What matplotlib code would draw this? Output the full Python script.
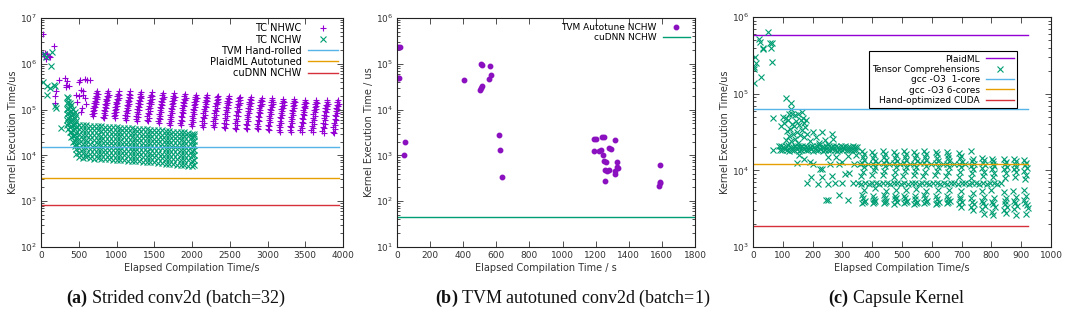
import numpy as np
import matplotlib
matplotlib.use('Agg')
import matplotlib.pyplot as plt
from matplotlib.ticker import LogLocator, MultipleLocator, NullFormatter

plt.rcParams['font.family'] = ['DejaVu Sans']
plt.rcParams['mathtext.fontset'] = 'custom'
plt.rcParams['mathtext.rm'] = 'Liberation Serif'
plt.rcParams['mathtext.bf'] = 'Liberation Serif:bold'

# gnuplot default palette
purple = '#9400d3'
green = '#009e73'
skyblue = '#56b4e9'
orange = '#e69f00'
red = '#d6303a'

#
# (a) strided conv2d, batch=32
#
nhwc_early_x = [22, 168, 30, 45, 55, 75, 100, 120, 62, 181, 190, 200, 239, 314, 330, 336, 350, 372,
                509, 521, 579, 610, 645, 460, 475, 500, 530, 553, 560, 580, 600, 540, 530]
nhwc_early_y = [4.4e6, 2.4e6, 1.6e6, 1.5e6, 1.7e6, 1.6e6, 1.5e6, 1.4e6, 1.3e6, 1.4e5, 2.0e5, 2.6e5, 4.4e5, 4.8e5,
                3.1e5, 3.5e5, 4.2e5, 3.3e5, 4.1e5, 4.4e5, 4.6e5, 4.5e5, 4.4e5, 2.1e5, 1.5e5, 2.0e5, 2.7e5, 2.1e5,
                2.5e5, 1.8e5, 1.3e5, 1.1e5, 9e4]
# the slanted stripes of TC NHWC, one list per stripe (left edge of each stripe)
nhwc_stripes_x = [
    [678, 686, 692, 699, 705, 712, 719, 726, 733, 742],
    [822, 830, 836, 843, 850, 857, 864, 871, 879, 888],
    [963, 970, 977, 983, 990, 997, 1004, 1011, 1019, 1027],
    [1112, 1119, 1126, 1133, 1139, 1146, 1153, 1160, 1168, 1176],
    [1257, 1264, 1271, 1277, 1284, 1291, 1298, 1305, 1313, 1321],
    [1402, 1409, 1416, 1423, 1429, 1436, 1443, 1450, 1458, 1466],
    [1552, 1559, 1566, 1572, 1579, 1586, 1593, 1600, 1608, 1616],
    [1697, 1704, 1711, 1718, 1724, 1731, 1738, 1745, 1753, 1761],
    [1842, 1849, 1856, 1862, 1869, 1876, 1883, 1890, 1898, 1906],
    [1987, 1994, 2001, 2008, 2014, 2021, 2028, 2035, 2043, 2051],
    [2132, 2139, 2146, 2152, 2159, 2166, 2173, 2180, 2188, 2196],
    [2277, 2284, 2291, 2298, 2304, 2311, 2318, 2325, 2333, 2341],
    [2422, 2429, 2436, 2442, 2449, 2456, 2463, 2470, 2478, 2486],
    [2567, 2574, 2581, 2588, 2594, 2601, 2608, 2615, 2623, 2631],
    [2712, 2719, 2726, 2732, 2739, 2746, 2753, 2760, 2768, 2776],
    [2857, 2864, 2871, 2878, 2884, 2891, 2898, 2905, 2913, 2921],
    [3002, 3009, 3016, 3022, 3029, 3036, 3043, 3050, 3058, 3066],
    [3147, 3154, 3161, 3168, 3174, 3181, 3188, 3195, 3203, 3211],
    [3292, 3299, 3306, 3312, 3319, 3326, 3333, 3340, 3348, 3356],
    [3437, 3444, 3451, 3458, 3464, 3471, 3478, 3485, 3493, 3501],
    [3582, 3589, 3596, 3602, 3609, 3616, 3623, 3630, 3638, 3646],
    [3727, 3734, 3741, 3748, 3754, 3761, 3768, 3775, 3783, 3791],
    [3867, 3874, 3881, 3888, 3894, 3901, 3908, 3915, 3923, 3940],
]
nhwc_stripes_y = [
    [8.0e4, 9.2e4, 1.08e5, 1.22e5, 1.4e5, 1.58e5, 1.8e5, 2.02e5, 2.3e5, 2.6e5],
    [7.0e4, 8.4e4, 1.0e5, 1.15e5, 1.33e5, 1.52e5, 1.74e5, 1.98e5, 2.25e5, 2.6e5],
    [7.2e4, 8.6e4, 9.8e4, 1.14e5, 1.3e5, 1.48e5, 1.7e5, 1.95e5, 2.2e5, 2.5e5],
    [6.5e4, 7.8e4, 9.2e4, 1.08e5, 1.25e5, 1.44e5, 1.66e5, 1.9e5, 2.2e5, 2.5e5],
    [6.2e4, 7.4e4, 8.9e4, 1.05e5, 1.22e5, 1.42e5, 1.64e5, 1.88e5, 2.15e5, 2.4e5],
    [6.0e4, 7.2e4, 8.6e4, 1.02e5, 1.2e5, 1.4e5, 1.6e5, 1.85e5, 2.1e5, 2.4e5],
    [5.5e4, 6.6e4, 8.0e4, 9.6e4, 1.14e5, 1.34e5, 1.56e5, 1.8e5, 2.05e5, 2.3e5],
    [5.0e4, 6.2e4, 7.6e4, 9.2e4, 1.1e5, 1.3e5, 1.52e5, 1.76e5, 2.02e5, 2.3e5],
    [5.0e4, 6.0e4, 7.4e4, 9.0e4, 1.08e5, 1.28e5, 1.5e5, 1.72e5, 1.98e5, 2.2e5],
    [4.8e4, 5.8e4, 7.1e4, 8.7e4, 1.05e5, 1.24e5, 1.46e5, 1.68e5, 1.92e5, 2.1e5],
    [4.5e4, 5.6e4, 6.9e4, 8.5e4, 1.02e5, 1.22e5, 1.44e5, 1.66e5, 1.9e5, 2.1e5],
    [4.5e4, 5.5e4, 6.8e4, 8.3e4, 1.0e5, 1.19e5, 1.4e5, 1.62e5, 1.85e5, 2.0e5],
    [4.2e4, 5.2e4, 6.5e4, 8.0e4, 9.7e4, 1.16e5, 1.37e5, 1.58e5, 1.8e5, 2.0e5],
    [4.0e4, 5.0e4, 6.2e4, 7.7e4, 9.4e4, 1.13e5, 1.33e5, 1.54e5, 1.75e5, 1.9e5],
    [4.0e4, 4.9e4, 6.1e4, 7.6e4, 9.2e4, 1.1e5, 1.3e5, 1.5e5, 1.72e5, 1.9e5],
    [4.0e4, 4.8e4, 6.0e4, 7.4e4, 9.0e4, 1.08e5, 1.27e5, 1.46e5, 1.66e5, 1.8e5],
    [3.8e4, 4.7e4, 5.8e4, 7.2e4, 8.8e4, 1.05e5, 1.24e5, 1.43e5, 1.62e5, 1.8e5],
    [3.6e4, 4.5e4, 5.6e4, 7.0e4, 8.5e4, 1.02e5, 1.2e5, 1.38e5, 1.56e5, 1.7e5],
    [3.6e4, 4.4e4, 5.5e4, 6.8e4, 8.3e4, 1.0e5, 1.18e5, 1.36e5, 1.54e5, 1.7e5],
    [3.5e4, 4.3e4, 5.4e4, 6.6e4, 8.1e4, 9.7e4, 1.14e5, 1.32e5, 1.48e5, 1.6e5],
    [3.5e4, 4.3e4, 5.3e4, 6.5e4, 8.0e4, 9.6e4, 1.13e5, 1.3e5, 1.46e5, 1.6e5],
    [3.4e4, 4.2e4, 5.2e4, 6.4e4, 7.8e4, 9.4e4, 1.11e5, 1.28e5, 1.44e5, 1.6e5],
    [3.3e4, 4.1e4, 5.1e4, 6.3e4, 7.7e4, 9.3e4, 1.1e5, 1.27e5, 1.43e5, 1.6e5],
]
# right edge of each stripe
nhwc_stripes2_x = [
    [694, 701, 708, 715, 722, 729, 736, 744, 752],
    [838, 845, 852, 859, 866, 873, 880, 888, 896],
    [979, 986, 993, 999, 1006, 1013, 1020, 1028, 1036],
    [1128, 1135, 1142, 1149, 1155, 1162, 1169, 1177, 1185],
    [1273, 1280, 1287, 1293, 1300, 1307, 1314, 1322, 1330],
    [1418, 1425, 1432, 1439, 1445, 1452, 1459, 1467, 1475],
    [1568, 1575, 1582, 1588, 1595, 1602, 1609, 1617, 1625],
    [1713, 1720, 1727, 1734, 1740, 1747, 1754, 1762, 1770],
    [1858, 1865, 1872, 1878, 1885, 1892, 1899, 1907, 1915],
    [2003, 2010, 2017, 2024, 2030, 2037, 2044, 2052, 2060],
    [2148, 2155, 2162, 2168, 2175, 2182, 2189, 2197, 2205],
    [2293, 2300, 2307, 2314, 2320, 2327, 2334, 2342, 2350],
    [2438, 2445, 2452, 2458, 2465, 2472, 2479, 2487, 2495],
    [2583, 2590, 2597, 2604, 2610, 2617, 2624, 2632, 2640],
    [2728, 2735, 2742, 2748, 2755, 2762, 2769, 2777, 2785],
    [2873, 2880, 2887, 2894, 2900, 2907, 2914, 2922, 2930],
    [3018, 3025, 3032, 3038, 3045, 3052, 3059, 3067, 3075],
    [3163, 3170, 3177, 3184, 3190, 3197, 3204, 3212, 3220],
    [3308, 3315, 3322, 3328, 3335, 3342, 3349, 3357, 3365],
    [3453, 3460, 3467, 3474, 3480, 3487, 3494, 3502, 3510],
    [3598, 3605, 3612, 3618, 3625, 3632, 3639, 3647, 3655],
    [3743, 3750, 3757, 3764, 3770, 3777, 3784, 3792, 3800],
    [3883, 3890, 3897, 3904, 3910, 3917, 3924, 3932, 3945],
]
nhwc_stripes2_y = [
    [7.4e4, 8.6e4, 1.0e5, 1.15e5, 1.3e5, 1.5e5, 1.7e5, 1.92e5, 2.15e5],
    [6.6e4, 7.8e4, 9.2e4, 1.07e5, 1.24e5, 1.42e5, 1.64e5, 1.86e5, 2.1e5],
    [6.6e4, 7.8e4, 9.0e4, 1.05e5, 1.22e5, 1.4e5, 1.6e5, 1.83e5, 2.05e5],
    [6.0e4, 7.2e4, 8.5e4, 1.0e5, 1.17e5, 1.35e5, 1.56e5, 1.78e5, 2.05e5],
    [5.7e4, 6.8e4, 8.2e4, 9.7e4, 1.13e5, 1.32e5, 1.53e5, 1.76e5, 2.0e5],
    [5.5e4, 6.6e4, 8.0e4, 9.4e4, 1.11e5, 1.3e5, 1.5e5, 1.72e5, 1.95e5],
    [5.1e4, 6.1e4, 7.4e4, 8.9e4, 1.06e5, 1.25e5, 1.45e5, 1.68e5, 1.9e5],
    [4.6e4, 5.7e4, 7.0e4, 8.5e4, 1.02e5, 1.21e5, 1.42e5, 1.64e5, 1.88e5],
    [4.6e4, 5.5e4, 6.8e4, 8.3e4, 1.0e5, 1.19e5, 1.39e5, 1.6e5, 1.83e5],
    [4.4e4, 5.3e4, 6.5e4, 8.0e4, 9.7e4, 1.15e5, 1.35e5, 1.56e5, 1.78e5],
    [4.2e4, 5.2e4, 6.4e4, 7.8e4, 9.4e4, 1.13e5, 1.33e5, 1.54e5, 1.76e5],
    [4.1e4, 5.1e4, 6.3e4, 7.7e4, 9.2e4, 1.1e5, 1.3e5, 1.5e5, 1.72e5],
    [3.9e4, 4.8e4, 6.0e4, 7.4e4, 9.0e4, 1.07e5, 1.27e5, 1.46e5, 1.67e5],
    [3.7e4, 4.6e4, 5.7e4, 7.1e4, 8.7e4, 1.04e5, 1.23e5, 1.42e5, 1.62e5],
    [3.7e4, 4.5e4, 5.6e4, 7.0e4, 8.5e4, 1.02e5, 1.2e5, 1.39e5, 1.59e5],
    [3.7e4, 4.4e4, 5.5e4, 6.8e4, 8.3e4, 1.0e5, 1.17e5, 1.35e5, 1.54e5],
    [3.5e4, 4.3e4, 5.4e4, 6.6e4, 8.1e4, 9.7e4, 1.14e5, 1.32e5, 1.5e5],
    [3.3e4, 4.1e4, 5.2e4, 6.4e4, 7.8e4, 9.4e4, 1.1e5, 1.28e5, 1.45e5],
    [3.3e4, 4.1e4, 5.1e4, 6.3e4, 7.7e4, 9.2e4, 1.09e5, 1.26e5, 1.43e5],
    [3.2e4, 4.0e4, 5.0e4, 6.1e4, 7.5e4, 9.0e4, 1.06e5, 1.22e5, 1.38e5],
    [3.2e4, 4.0e4, 4.9e4, 6.0e4, 7.4e4, 8.9e4, 1.05e5, 1.2e5, 1.36e5],
    [3.1e4, 3.9e4, 4.8e4, 5.9e4, 7.2e4, 8.7e4, 1.03e5, 1.19e5, 1.34e5],
    [3.1e4, 3.8e4, 4.7e4, 5.8e4, 7.1e4, 8.6e4, 1.02e5, 1.18e5, 1.33e5],
]

nchw_early_x = [26, 80, 181, 84, 137, 40, 70, 200, 268, 170, 190, 120, 150]
nchw_early_y = [4.0e5, 3.2e5, 3.3e5, 2.1e5, 9.0e5, 1.6e6, 1.4e6, 1.1e5, 3.9e4, 3.5e5, 1.2e5, 3.0e5, 1.8e6]
# TC NCHW block, one list per column
nchw_cols_x = [340, 360, 380, 400, 420, 445, 470, 500, 550, 600, 650, 700, 750, 800, 850, 900, 950,
               1000, 1050, 1100, 1150, 1200, 1250, 1300, 1350, 1400, 1450, 1500, 1550, 1600, 1650,
               1700, 1750, 1800, 1850, 1900, 1950, 2000, 2025]
nchw_cols_y = [
    [4.5e4, 6e4, 8e4, 1.05e5, 1.4e5, 1.9e5],
    [3.8e4, 5e4, 6.5e4, 8.5e4, 1.1e5, 1.5e5, 1.8e5],
    [3.2e4, 4.2e4, 5.5e4, 7e4, 9e4, 1.15e5, 1.4e5],
    [2.5e4, 3.3e4, 4.4e4, 5.8e4, 7.5e4, 9.5e4, 1.25e5],
    [2.0e4, 2.6e4, 3.5e4, 4.6e4, 6e4, 8e4, 1.05e5],
    [1.6e4, 2.1e4, 2.8e4, 3.7e4, 4.9e4, 6.5e4, 9e4],
    [1.1e4, 1.4e4, 1.8e4, 2.4e4, 3.1e4, 4.2e4, 5.5e4, 7.5e4],
    [9.2e3, 1.15e4, 1.45e4, 1.85e4, 2.3e4, 2.9e4, 3.7e4, 4.6e4],
    [8.8e3, 1.12e4, 1.4e4, 1.8e4, 2.25e4, 2.85e4, 3.6e4, 4.5e4],
    [9.0e3, 1.1e4, 1.42e4, 1.78e4, 2.2e4, 2.8e4, 3.55e4, 4.5e4],
    [8.6e3, 1.1e4, 1.38e4, 1.75e4, 2.25e4, 2.8e4, 3.6e4, 4.4e4],
    [8.5e3, 1.08e4, 1.36e4, 1.72e4, 2.2e4, 2.75e4, 3.5e4, 4.4e4],
    [8.7e3, 1.1e4, 1.4e4, 1.75e4, 2.2e4, 2.8e4, 3.5e4, 4.3e4],
    [8.3e3, 1.05e4, 1.35e4, 1.7e4, 2.15e4, 2.7e4, 3.45e4, 4.3e4],
    [8.4e3, 1.06e4, 1.33e4, 1.7e4, 2.1e4, 2.7e4, 3.4e4, 4.2e4],
    [8.2e3, 1.04e4, 1.32e4, 1.68e4, 2.1e4, 2.65e4, 3.35e4, 4.2e4],
    [8.0e3, 1.02e4, 1.3e4, 1.65e4, 2.1e4, 2.65e4, 3.3e4, 4.1e4],
    [8.1e3, 1.03e4, 1.3e4, 1.63e4, 2.05e4, 2.6e4, 3.3e4, 4.1e4],
    [7.8e3, 1.0e4, 1.28e4, 1.6e4, 2.05e4, 2.6e4, 3.25e4, 4.0e4],
    [7.9e3, 1.0e4, 1.27e4, 1.6e4, 2.0e4, 2.55e4, 3.2e4, 4.0e4],
    [7.6e3, 9.8e3, 1.25e4, 1.58e4, 2.0e4, 2.5e4, 3.2e4, 3.9e4],
    [7.7e3, 9.8e3, 1.24e4, 1.56e4, 1.98e4, 2.5e4, 3.15e4, 3.9e4],
    [7.5e3, 9.6e3, 1.22e4, 1.55e4, 1.95e4, 2.45e4, 3.1e4, 3.8e4],
    [7.4e3, 9.5e3, 1.2e4, 1.53e4, 1.93e4, 2.45e4, 3.05e4, 3.8e4],
    [7.3e3, 9.4e3, 1.2e4, 1.5e4, 1.9e4, 2.4e4, 3.0e4, 3.7e4],
    [7.2e3, 9.2e3, 1.18e4, 1.5e4, 1.88e4, 2.38e4, 3.0e4, 3.7e4],
    [7.0e3, 9.0e3, 1.15e4, 1.47e4, 1.86e4, 2.35e4, 2.95e4, 3.6e4],
    [7.0e3, 9.0e3, 1.14e4, 1.45e4, 1.85e4, 2.3e4, 2.9e4, 3.6e4],
    [6.8e3, 8.8e3, 1.12e4, 1.43e4, 1.82e4, 2.3e4, 2.9e4, 3.5e4],
    [6.7e3, 8.6e3, 1.1e4, 1.42e4, 1.8e4, 2.25e4, 2.85e4, 3.5e4],
    [6.6e3, 8.5e3, 1.1e4, 1.4e4, 1.78e4, 2.22e4, 2.8e4, 3.4e4],
    [6.5e3, 8.4e3, 1.08e4, 1.38e4, 1.75e4, 2.2e4, 2.75e4, 3.4e4],
    [6.4e3, 8.3e3, 1.06e4, 1.36e4, 1.72e4, 2.18e4, 2.7e4, 3.3e4],
    [6.3e3, 8.2e3, 1.05e4, 1.35e4, 1.7e4, 2.15e4, 2.7e4, 3.3e4],
    [6.2e3, 8.0e3, 1.04e4, 1.33e4, 1.68e4, 2.12e4, 2.65e4, 3.2e4],
    [6.1e3, 7.9e3, 1.02e4, 1.3e4, 1.66e4, 2.1e4, 2.6e4, 3.2e4],
    [6.0e3, 7.8e3, 1.0e4, 1.28e4, 1.64e4, 2.08e4, 2.6e4, 3.1e4],
    [6.0e3, 7.7e3, 1.0e4, 1.27e4, 1.62e4, 2.05e4, 2.55e4, 3.0e4],
    [6.2e3, 8.0e3, 1.03e4, 1.3e4, 1.65e4, 2.1e4, 2.6e4, 2.9e4],
]
tvm_hand_rolled = 1.55e4
plaidml_autotuned = 3.2e3
cudnn_a = 830

#
# (b) TVM autotuned conv2d, batch=1
#
tvm_x = [6, 18, 8, 13, 46, 44, 406, 509, 515, 561, 565, 553, 513, 505, 501, 614, 622, 632,
         1187, 1203, 1238, 1251, 1316, 1191, 1223, 1235, 1245, 1278, 1294, 1249, 1262, 1254, 1266,
         1282, 1257, 1328, 1328, 1334, 1318, 1318, 1591, 1586, 1588, 1580]
tvm_y = [2.3e5, 2.3e5, 4.8e4, 4.8e4, 1.96e3, 1.0e3, 4.4e4, 9.9e4, 9.6e4, 8.8e4, 5.7e4, 4.66e4, 3.33e4,
         3.0e4, 2.68e4, 2.79e3, 1.31e3, 337, 2.24e3, 2.28e3, 2.56e3, 2.56e3, 2.13e3, 1.25e3, 1.27e3,
         1.33e3, 1.02e3, 1.43e3, 1.4e3, 755, 710, 472, 460, 472, 276, 718, 567, 540, 457, 386,
         617, 267, 250, 218]
cudnn_b = 46

#
# (c) Capsule kernel
#
tc_early_x = [51, 21, 25, 35, 32, 57, 63, 60, 63, 6, 10, 3, 4, 26, 2, 66, 66]
tc_early_y = [6.4e5, 5.2e5, 4.7e5, 3.9e5, 3.8e5, 4.6e5, 4.6e5, 4.0e5, 2.57e5, 3.0e5, 2.5e5, 2.25e5,
              1.36e5, 1.64e5, 2.1e5, 4.8e4, 1.85e4]
tc_cloud_x = [111, 126, 127, 122, 132, 100, 110, 118, 140, 150, 163, 168, 172, 160, 145, 105, 130, 138,
              155, 175, 125, 115, 148, 165, 135, 120, 158, 140, 170, 128, 150, 110, 178, 180, 95,
              202, 230, 213, 241, 222, 190, 250, 270, 265]
tc_cloud_y = [8.7e4, 7.5e4, 6.4e4, 5.5e4, 5.5e4, 5.0e4, 4.8e4, 4.6e4, 5.2e4, 5.5e4, 5.8e4, 4.8e4, 4.2e4,
              4.5e4, 4.4e4, 4.2e4, 4.0e4, 3.8e4, 3.9e4, 3.7e4, 3.5e4, 3.3e4, 3.2e4, 3.4e4, 3.0e4, 2.8e4,
              2.9e4, 2.6e4, 2.7e4, 2.4e4, 2.3e4, 2.5e4, 4.5e4, 3.0e4, 3.8e4,
              3.2e4, 3.2e4, 2.7e4, 2.5e4, 2.3e4, 2.4e4, 2.2e4, 2.6e4, 3.0e4]
tc_band_x = [86, 94, 102, 110, 118, 126, 134, 142, 150, 158, 166, 174, 182, 190, 198, 206, 214, 222,
             230, 238, 246, 254, 262, 270, 278, 286, 294, 302, 310, 318, 326, 334, 342, 350,
             90, 98, 106, 114, 122, 130, 138, 146, 154, 162, 170, 178, 186, 194, 202, 210, 218,
             226, 234, 242, 250, 258, 266, 274, 282, 290, 298, 306, 314, 322, 330, 338, 346]
tc_band_y = [2.05e4, 2.1e4, 2.0e4, 2.06e4, 2.12e4, 2.03e4, 1.99e4, 2.07e4, 2.1e4, 2.02e4, 2.05e4, 2.1e4,
             2.0e4, 2.04e4, 2.09e4, 2.0e4, 2.06e4, 2.11e4, 2.03e4, 2.0e4, 2.07e4, 2.1e4, 2.02e4, 2.05e4,
             2.09e4, 2.01e4, 2.06e4, 2.03e4, 2.1e4, 1.99e4, 2.04e4, 2.07e4, 2.02e4, 2.03e4,
             1.85e4, 1.82e4, 1.88e4, 1.84e4, 1.8e4, 1.86e4, 1.83e4, 1.87e4, 1.81e4, 1.85e4, 1.88e4,
             1.82e4, 1.84e4, 1.87e4, 1.8e4, 1.85e4, 1.83e4, 1.88e4, 1.81e4, 1.86e4, 1.84e4, 1.82e4,
             1.87e4, 1.85e4, 1.8e4, 1.86e4, 1.83e4, 1.88e4, 1.84e4, 1.82e4, 1.86e4, 1.85e4, 1.83e4]
tc_low_x = [146, 191, 224, 196, 230, 230, 180, 219, 253, 253, 245, 290, 320, 260, 280, 300, 310, 322,
            335, 300, 340, 275, 290, 265, 200, 170, 155, 250, 320, 345]
tc_low_y = [1.25e4, 1.3e4, 1.03e4, 8.3e3, 8.3e3, 1.03e4, 6.8e3, 6.7e3, 6.7e3, 4.1e3, 4.1e3, 4.8e3, 4.1e3,
            1.2e4, 1.5e4, 1.3e4, 9e3, 9.2e3, 6.8e3, 6.8e3, 1.2e4, 6.8e3, 1.2e4, 8.5e3, 1.2e4, 1.4e4,
            1.6e4, 1.5e4, 1.55e4, 1.6e4]
# columns of configurations after ~350 s
tc_cols_x = [
    [365, 371, 368, 374, 366, 372, 369, 364, 373, 367, 370, 375, 366, 371],
    [401, 407, 404, 410, 402, 408, 405, 400, 409, 403, 406, 411, 402, 407],
    [437, 443, 440, 446, 438, 444, 441, 436, 445, 439, 442, 447, 438, 443],
    [473, 479, 476, 482, 474, 480, 477, 472, 481, 475, 478, 483, 474, 479],
    [506, 512, 509, 515, 507, 513, 510, 505, 514, 508, 511, 516, 507, 512],
    [540, 546, 543, 549, 541, 547, 544, 539, 548, 542, 545, 550, 541, 546],
    [573, 579, 576, 582, 574, 580, 577, 572, 581, 575, 578, 583, 574, 579],
    [613, 619, 616, 622, 614, 620, 617, 612, 621, 615, 618, 623, 614, 619],
    [650, 656, 653, 659, 651, 657, 654, 649, 658, 652, 655, 660, 651, 656],
    [691, 697, 694, 700, 692, 698, 695, 690, 699, 693, 696, 701, 692, 697],
    [731, 737, 734, 740, 732, 738, 735, 730, 739, 733, 736, 741, 732, 737],
    [768, 774, 771, 777, 769, 775, 772, 767, 776, 770, 773, 778, 769, 774],
    [801, 807, 804, 810, 802, 808, 805, 800, 809, 803, 806, 811, 802, 807],
    [842, 848, 845, 851, 843, 849, 846, 841, 850, 844, 847, 852, 843, 848],
    [875, 881, 878, 884, 876, 882, 879, 874, 883, 877, 880, 885, 876, 881],
    [909, 915, 912, 918, 910, 916, 913, 908, 917, 911, 914, 920, 922, 916],
]
tc_cols_y = [
    [1.78e4, 1.62e4, 1.48e4, 1.35e4, 1.24e4, 1.12e4, 9.6e3, 8.4e3, 5.5e3, 4.7e3, 4.3e3, 4.0e3, 3.75e3, 3.9e3],
    [1.72e4, 1.6e4, 1.46e4, 1.33e4, 1.22e4, 1.1e4, 1.0e4, 8.8e3, 5.8e3, 4.6e3, 4.25e3, 3.95e3, 3.7e3, 3.85e3],
    [1.8e4, 1.64e4, 1.5e4, 1.36e4, 1.25e4, 1.13e4, 9.8e3, 8.6e3, 5.4e3, 4.7e3, 4.3e3, 4.0e3, 3.7e3, 3.9e3],
    [1.75e4, 1.6e4, 1.47e4, 1.34e4, 1.23e4, 1.11e4, 9.4e3, 8.2e3, 5.6e3, 4.6e3, 4.2e3, 3.9e3, 3.65e3, 4.4e3],
    [1.78e4, 1.63e4, 1.49e4, 1.35e4, 1.24e4, 1.12e4, 9.7e3, 8.5e3, 5.5e3, 4.65e3, 4.3e3, 3.95e3, 3.7e3, 3.85e3],
    [1.74e4, 1.6e4, 1.46e4, 1.33e4, 1.22e4, 1.1e4, 9.9e3, 8.7e3, 5.7e3, 4.6e3, 4.25e3, 3.9e3, 3.65e3, 3.8e3],
    [1.8e4, 1.65e4, 1.5e4, 1.36e4, 1.25e4, 1.13e4, 9.5e3, 8.4e3, 5.4e3, 4.7e3, 4.3e3, 4.0e3, 3.7e3, 3.9e3],
    [1.76e4, 1.61e4, 1.47e4, 1.34e4, 1.23e4, 1.11e4, 9.8e3, 8.6e3, 5.6e3, 4.6e3, 4.2e3, 3.9e3, 3.65e3, 3.8e3],
    [1.73e4, 1.6e4, 1.46e4, 1.33e4, 1.22e4, 1.1e4, 9.6e3, 8.5e3, 5.5e3, 4.65e3, 4.25e3, 3.95e3, 3.7e3, 3.85e3],
    [1.7e4, 1.55e4, 1.43e4, 1.3e4, 1.2e4, 1.09e4, 9.4e3, 8.3e3, 5.3e3, 4.5e3, 4.2e3, 3.9e3, 3.6e3, 3.3e3],
    [1.8e4, 1.42e4, 1.32e4, 1.22e4, 1.13e4, 1.05e4, 9.2e3, 8.0e3, 5.1e3, 4.4e3, 3.9e3, 3.6e3, 3.3e3, 3.0e3],
    [1.45e4, 1.35e4, 1.25e4, 1.16e4, 1.08e4, 9.6e3, 8.4e3, 5.3e3, 4.5e3, 4.0e3, 3.7e3, 3.4e3, 3.1e3, 2.7e3],
    [1.42e4, 1.32e4, 1.22e4, 1.13e4, 1.05e4, 9.3e3, 8.1e3, 5.5e3, 4.4e3, 3.9e3, 3.6e3, 3.3e3, 2.9e3, 2.6e3],
    [1.4e4, 1.3e4, 1.2e4, 1.12e4, 1.04e4, 9.2e3, 8.0e3, 5.2e3, 4.4e3, 3.95e3, 3.6e3, 3.3e3, 3.0e3, 2.8e3],
    [1.42e4, 1.31e4, 1.21e4, 1.12e4, 1.04e4, 9.4e3, 8.2e3, 5.4e3, 4.5e3, 4.0e3, 3.7e3, 3.4e3, 3.1e3, 2.6e3],
    [1.35e4, 1.25e4, 1.16e4, 1.08e4, 9.8e3, 8.8e3, 7.6e3, 5.6e3, 4.6e3, 4.1e3, 3.8e3, 3.5e3, 3.2e3, 2.7e3],
]
tc_row_x = [352, 364, 376, 388, 400, 412, 424, 436, 448, 460, 472, 484, 496, 508, 520, 532, 544, 556,
            568, 580, 592, 604, 616, 628, 640, 652, 664, 676, 688, 700, 712, 724, 736, 748, 760, 772,
            784, 796, 808, 820, 832,
            358, 386, 420, 458, 494, 527, 560, 597, 636, 674, 712]
tc_row_y = [6.9e3, 6.7e3, 6.8e3, 6.6e3, 6.9e3, 6.8e3, 6.7e3, 6.9e3, 6.8e3, 6.6e3, 6.8e3, 6.9e3, 6.7e3,
            6.8e3, 6.6e3, 6.9e3, 6.8e3, 6.7e3, 6.9e3, 6.8e3, 6.6e3, 6.8e3, 6.9e3, 6.7e3, 6.8e3, 6.6e3,
            6.9e3, 6.8e3, 6.7e3, 6.9e3, 6.8e3, 6.6e3, 6.8e3, 6.9e3, 6.7e3, 6.8e3, 6.6e3, 6.9e3, 6.8e3,
            6.7e3, 6.8e3,
            1.22e4, 1.2e4, 1.23e4, 1.21e4, 1.22e4, 1.2e4, 1.23e4, 1.21e4, 1.22e4, 1.2e4, 1.21e4]
plaidml_c = 5.9e5
gcc_1core = 6.4e4
gcc_6cores = 1.2e4
hand_cuda = 1.9e3


def flat(list_of_lists):
    return [v for sub in list_of_lists for v in sub]


def style(ax, ymin, ymax, xmax, xstep, xlabel, ylabel):
    ax.set_yscale('log')
    ax.set_ylim(ymin, ymax)
    ax.set_xlim(0, xmax)
    ax.xaxis.set_major_locator(MultipleLocator(xstep))
    ax.yaxis.set_major_locator(LogLocator(base=10, numticks=12))
    ax.yaxis.set_minor_locator(LogLocator(base=10, subs=np.arange(2, 10), numticks=12))
    ax.yaxis.set_minor_formatter(NullFormatter())
    ax.tick_params(which='both', direction='in', top=True, right=True, labelsize=6.5,
                   width=0.6, colors='#333333', labelcolor='#333333')
    ax.tick_params(which='major', length=4, pad=3)
    ax.tick_params(which='minor', length=2)
    for s in ax.spines.values():
        s.set_linewidth(0.8)
        s.set_color('#222222')
    ax.set_xlabel(xlabel, fontsize=7, labelpad=2, color='#333333')
    ax.set_ylabel(ylabel, fontsize=7, labelpad=1, color='#333333')


fig = plt.figure(figsize=(10.8, 3.23), dpi=100)
ax_a = fig.add_axes([41 / 1080, 1 - 247 / 323, 302 / 1080, 229 / 323])
ax_b = fig.add_axes([397 / 1080, 1 - 247 / 323, 298 / 1080, 229 / 323])
ax_c = fig.add_axes([753 / 1080, 1 - 247 / 323, 298 / 1080, 230 / 323])

# (a)
nhwc_x = nhwc_early_x + flat(nhwc_stripes_x) + flat(nhwc_stripes2_x)
nhwc_y = nhwc_early_y + flat(nhwc_stripes_y) + flat(nhwc_stripes2_y)
nchw_x = nchw_early_x + [x for x, ys in zip(nchw_cols_x, nchw_cols_y) for _ in ys]
nchw_y = nchw_early_y + flat(nchw_cols_y)
ax_a.plot(nhwc_x, nhwc_y, ls='none', marker='+', ms=4.5, mew=0.8, color=purple, label='TC NHWC')
ax_a.plot(nchw_x, nchw_y, ls='none', marker='x', ms=4.3, mew=0.8, color=green, label='TC NCHW')
xa = [0, max(nhwc_x)]
ax_a.plot(xa, [tvm_hand_rolled] * 2, color=skyblue, lw=1, label='TVM Hand-rolled')
ax_a.plot(xa, [plaidml_autotuned] * 2, color=orange, lw=1, label='PlaidML Autotuned')
ax_a.plot(xa, [cudnn_a] * 2, color=red, lw=1, label='cuDNN NCHW')
style(ax_a, 1e2, 1e7, 4000, 500, 'Elapsed Compilation Time/s', 'Kernel Execution Time/us')
ax_a.legend(loc='upper right', frameon=False, markerfirst=False, fontsize=7, numpoints=1,
            handlelength=3.0, handletextpad=0.7, labelspacing=0.12, borderaxespad=0.35,
            borderpad=0.2)

# (b)
ax_b.plot(tvm_x, tvm_y, ls='none', marker='o', ms=3.2, color='#8a10c0', label='TVM Autotune NCHW')
ax_b.axhline(cudnn_b, color=green, lw=1, label='cuDNN NCHW')
style(ax_b, 1e1, 1e6, 1800, 200, 'Elapsed Compilation Time / s', 'Kernel Execution Time / us')
ax_b.legend(loc='upper right', frameon=False, markerfirst=False, fontsize=6.5, numpoints=1,
            handlelength=3.0, handletextpad=0.7, labelspacing=0.15, borderaxespad=0.35,
            borderpad=0.2)

# (c)
tc_x = tc_early_x + tc_cloud_x + tc_band_x + tc_low_x + flat(tc_cols_x) + tc_row_x
tc_y = tc_early_y + tc_cloud_y + tc_band_y + tc_low_y + flat(tc_cols_y) + tc_row_y
xc = [0, max(tc_x)]
ax_c.plot(xc, [plaidml_c] * 2, color=purple, lw=1, label='PlaidML')
ax_c.plot(tc_x, tc_y, ls='none', marker='x', ms=4, mew=0.8, color=green, label='Tensor Comprehensions')
ax_c.plot(xc, [gcc_1core] * 2, color=skyblue, lw=1, label='gcc -O3  1-core')
ax_c.plot(xc, [gcc_6cores] * 2, color=orange, lw=1, label='gcc -O3 6-cores')
ax_c.plot(xc, [hand_cuda] * 2, color=red, lw=1, label='Hand-optimized CUDA')
style(ax_c, 1e3, 1e6, 1000, 100, 'Elapsed Compilation Time/s', 'Kernel Execution Time/us')
leg = ax_c.legend(loc='upper right', bbox_to_anchor=(0.90, 0.87), frameon=True, fancybox=False,
                  markerfirst=False, fontsize=6.5, numpoints=1, handlelength=3.0,
                  handletextpad=0.7, labelspacing=0.15, borderpad=0.35)
leg.get_frame().set_edgecolor('black')
leg.get_frame().set_linewidth(0.8)
leg.get_frame().set_alpha(1)

# captions
cap = dict(fontsize=13, family='Liberation Serif', ha='center', va='center', color='#111111')
fig.text(176 / 1080, 1 - 298 / 323, r'$\bf{(a)}$ Strided conv2d (batch=32)', **cap)
fig.text(573 / 1080, 1 - 298 / 323, r'$\bf{(b)}$ TVM autotuned conv2d (batch=1)', **cap)
fig.text(897 / 1080, 1 - 298 / 323, r'$\bf{(c)}$ Capsule Kernel', **cap)

fig.savefig('out.png', dpi=100)
